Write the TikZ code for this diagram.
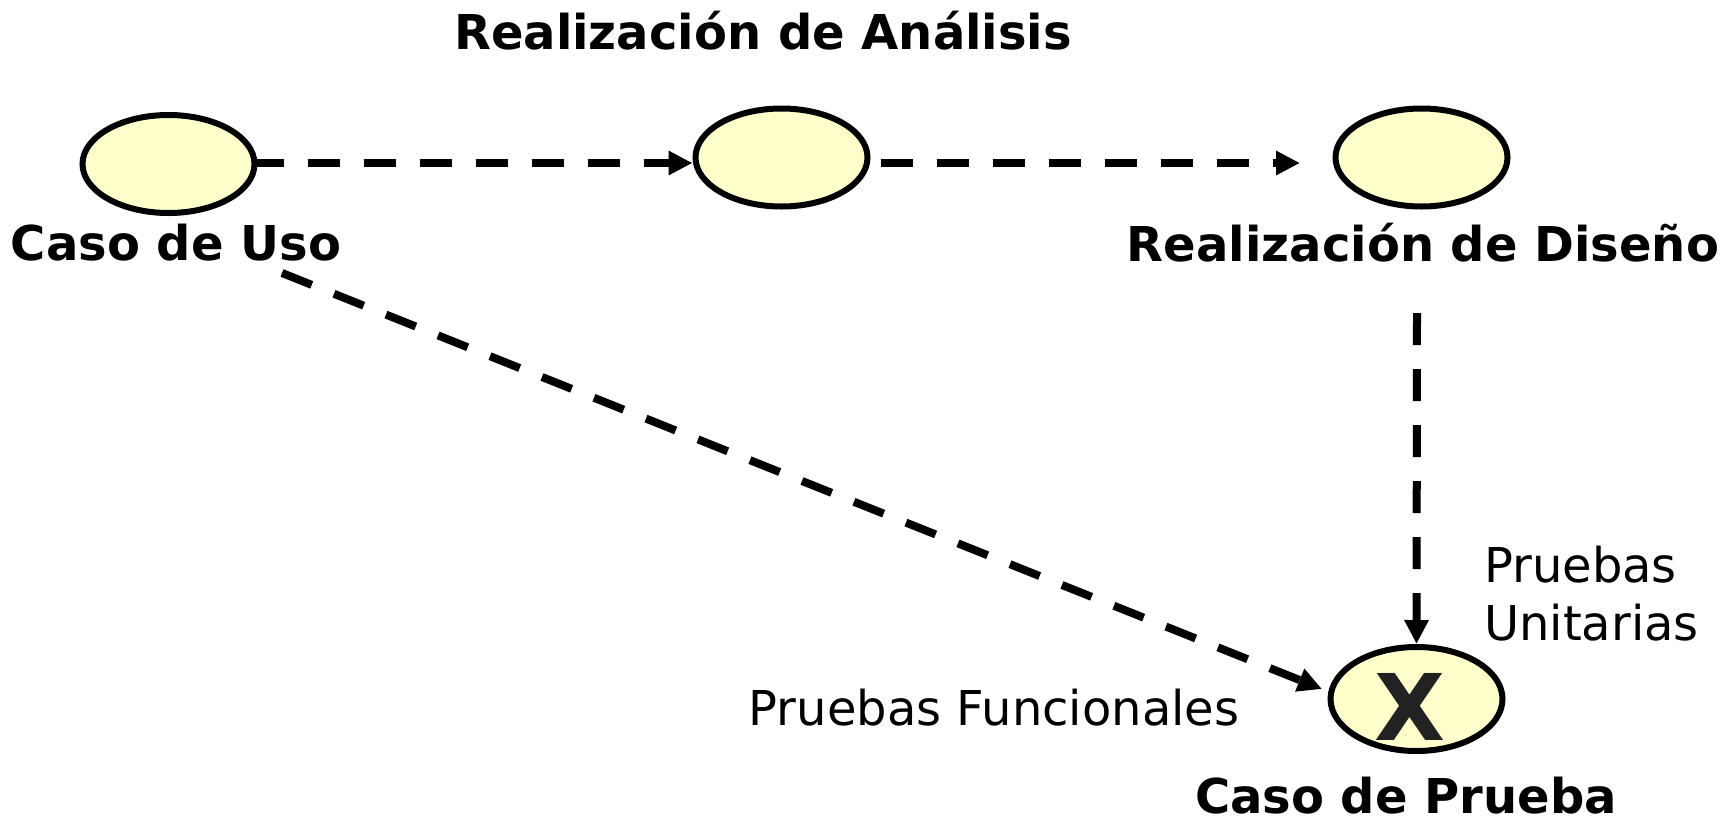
\documentclass[tikz,border=0pt]{standalone}
\usepackage{fontspec}
\setmainfont{DejaVu Sans}
\usetikzlibrary{arrows.meta,shapes.geometric}
\definecolor{ucfill}{HTML}{FFFFCC}
\definecolor{xgray}{HTML}{222222}
\tikzset{
  uc/.style={ellipse, draw=black, line width=6pt, fill=ucfill, minimum width=172pt, minimum height=98pt, inner sep=0pt},
  lbl/.style={font=\fontsize{48}{56}\selectfont\bfseries, inner sep=0pt, anchor=center},
  note/.style={font=\fontsize{48}{58}\selectfont, inner sep=0pt},
  dep/.style={line width=8pt, dash pattern=on 32pt off 24pt, -{Triangle[length=24pt,width=23pt]}}
}
\begin{document}
\begin{tikzpicture}[x=1pt,y=-1pt]
\useasboundingbox (0,0) rectangle (1735,823);
% use cases
\node[uc] (uso) at (168.5,164) {};
\node[uc] (ana) at (781.5,157.5) {};
\node[uc] (dis) at (1421.5,157.5) {};
\node[uc, minimum height=104pt] (pru) at (1416.5,699) {};
\node[font=\fontsize{92}{92}\selectfont\bfseries, text=xgray, inner sep=0pt] (x) at (1410,707) {X};
% labels
\node[lbl] (luso) at (176,243) {Caso de Uso};
\node[lbl] (lana) at (763,31) {Realización de Análisis};
\node[lbl] (ldis) at (1423,243) {Realización de Diseño};
\node[lbl, anchor=base] (lpru) at (1406,813) {Caso de Prueba};
\node[note] (fun) at (994,708) {Pruebas Funcionales};
\node[note, align=left, anchor=west] (uni) at (1484,594) {Pruebas\\Unitarias};
% connector ends
\coordinate (e1) at (1300,163);
\coordinate (s3) at (282,273);
\coordinate (e3) at (1322,689);
\coordinate (s4) at (1417,313);
% connectors
\draw[dep] ([xshift=-6pt]uso.east |- 0,163) -- (ana.west |- 0,163);
\draw[dep] ([xshift=10pt]ana.east |- 0,163) -- (e1);
\draw[dep] (s3) -- (e3);
\draw[dep] (s4) -- (pru.north);
\end{tikzpicture}
\end{document}
